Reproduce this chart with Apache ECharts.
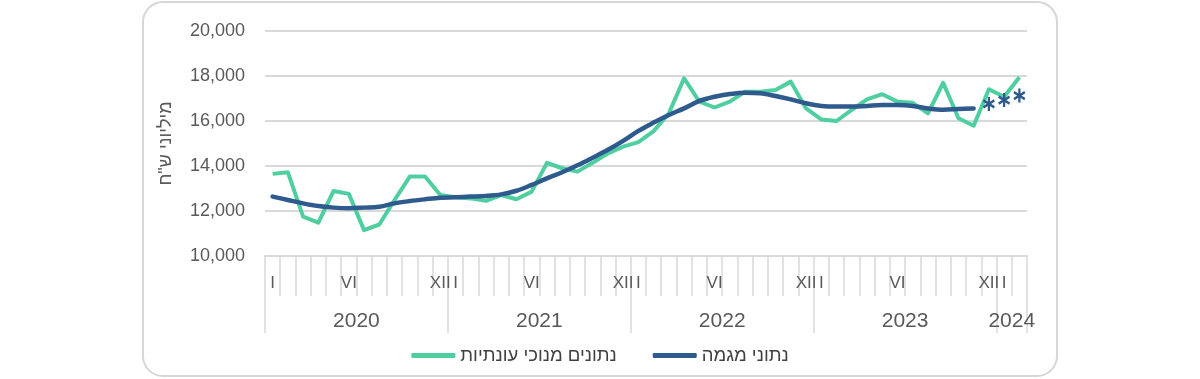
<!DOCTYPE html>
<html>
<head>
<meta charset="utf-8">
<script src="https://cdn.jsdelivr.net/npm/echarts@6/dist/echarts.min.js"></script>
<style>
  html, body { margin: 0; padding: 0; background: #ffffff; }
  #chart { width: 1200px; height: 379px; }
</style>
</head>
<body>
<div id="chart"></div>
<script>
// ---- data ----
const years = ['2020', '2021', '2022', '2023', '2024'];
const monthsPerYear = [12, 12, 12, 12, 2];
const monthTickLabels = ['I', '', '', '', '', 'VI', '', '', '', '', '', 'XII'];
const seriesNames = ['נתונים מנוכי עונתיות', 'נתוני מגמה'];
const yAxisTitle = 'מיליוני ש"ח';
const yTicks = [10000, 12000, 14000, 16000, 18000, 20000];

// seasonally adjusted (monthly, Jan 2020 - Feb 2024)
const seasonAdj = [
  13650, 13720, 11750, 11480, 12890, 12760, 11150, 11400, 12490, 13530, 13530, 12710,
  12610, 12560, 12450, 12710, 12520, 12860, 14140, 13900, 13750, 14140, 14560, 14860,
  15060, 15550, 16340, 17900, 16860, 16600, 16860, 17300, 17300, 17380, 17750, 16560,
  16070, 16000, 16490, 16960, 17190, 16860, 16810, 16340, 17700, 16120, 15790, 17410,
  17080, 17940
];
// trend (Jan 2020 - Nov 2023)
const trend = [
  12640, 12490, 12340, 12220, 12150, 12120, 12150, 12190, 12340, 12440, 12520, 12590,
  12610, 12640, 12670, 12740, 12900, 13160, 13450, 13720, 14030, 14370, 14720, 15120,
  15560, 15930, 16270, 16560, 16890, 17080, 17200, 17260, 17230, 17110, 16960, 16790,
  16670, 16640, 16640, 16670, 16710, 16710, 16670, 16560, 16500, 16530, 16560
];
// preliminary trend estimates (Dec 2023 - Feb 2024), drawn as asterisks
const trendPrelim = [16760, 16930, 17130];

// ---- derived structures ----
const categories = [];
const monthLabels = [];
years.forEach((y, yi) => {
  for (let m = 0; m < monthsPerYear[yi]; m++) {
    categories.push(y + '-' + (m + 1));
    monthLabels.push(monthTickLabels[m]);
  }
});
const n = categories.length;
const boundaryData = [];
for (let i = 0; i <= n; i++) boundaryData.push('b' + i);
const boundarySet = new Set([0]);
const yearAtMid = {};
let acc = 0;
years.forEach((y, yi) => {
  yearAtMid[acc + monthsPerYear[yi] / 2] = y;
  acc += monthsPerYear[yi];
  boundarySet.add(acc);
});

const trendData = categories.map((c, i) => i < trend.length ? trend[i] : null);
const prelimData = categories.map((c, i) => {
  const k = i - trend.length;
  return k >= 0 && k < trendPrelim.length ? trendPrelim[k] : null;
});

const GREEN = '#4fcf9f';
const BLUE = '#2f5a8e';
const GRID = '#d9d9d9';
const TXT = '#595959';
const FONT = '"Liberation Sans", Arial, sans-serif';
const asterisk = 'path://M41 0L59 0L59 100L41 100ZM2.2 32.8L11.2 17.2L97.8 67.2L88.8 82.8ZM88.8 17.2L97.8 32.8L11.2 82.8L2.2 67.2Z';

const chart = echarts.init(document.getElementById('chart'), null, { renderer: 'canvas' });
chart.setOption({
  animation: false,
  backgroundColor: '#ffffff',
  textStyle: { fontFamily: FONT },
  graphic: [{
    type: 'rect',
    silent: true,
    z: -10,
    shape: { x: 143, y: 2, width: 914, height: 374, r: 20 },
    style: { fill: 'none', stroke: '#d6d6d6', lineWidth: 2 }
  }],
  grid: { left: 265, right: 173, top: 31, bottom: 123, containLabel: false },
  legend: {
    data: seriesNames,
    left: 'center',
    top: 341,
    icon: 'roundRect',
    itemWidth: 44,
    itemHeight: 5,
    itemGap: 36,
    textStyle: { fontSize: 18.5, color: '#404040', fontFamily: FONT }
  },
  xAxis: [{
    type: 'category',
    data: categories,
    boundaryGap: true,
    position: 'bottom',
    axisLine: { show: true, lineStyle: { color: GRID, width: 2 } },
    axisTick: { show: true, interval: 0, length: 40, lineStyle: { color: GRID, width: 1.5 } },
    axisLabel: {
      interval: 0,
      margin: 19,
      fontSize: 17,
      color: TXT,
      fontFamily: FONT,
      formatter: (v, i) => monthLabels[i]
    },
    splitLine: { show: false }
  }, {
    type: 'category',
    data: boundaryData,
    boundaryGap: false,
    position: 'bottom',
    axisLine: { show: false },
    axisTick: {
      show: true,
      interval: (i) => boundarySet.has(i),
      length: 77,
      lineStyle: { color: GRID, width: 1.5 }
    },
    axisLabel: {
      interval: (i) => yearAtMid[i] !== undefined,
      margin: 55,
      fontSize: 21,
      color: TXT,
      fontFamily: FONT,
      formatter: (v, i) => yearAtMid[i] || ''
    },
    splitLine: { show: false }
  }],
  yAxis: {
    type: 'value',
    min: yTicks[0],
    max: yTicks[yTicks.length - 1],
    interval: yTicks[1] - yTicks[0],
    name: yAxisTitle,
    nameLocation: 'middle',
    nameGap: 90,
    nameTextStyle: { fontSize: 18, color: TXT, fontFamily: FONT },
    axisLine: { show: false },
    axisTick: { show: false },
    axisLabel: {
      margin: 20,
      fontSize: 18,
      color: TXT,
      fontFamily: FONT,
      formatter: (v) => v.toLocaleString('en-US')
    },
    splitLine: { lineStyle: { color: GRID, width: 2 } }
  },
  series: [{
    name: seriesNames[0],
    type: 'line',
    xAxisIndex: 0,
    data: seasonAdj,
    showSymbol: false,
    symbol: 'none',
    lineStyle: { color: GREEN, width: 4, join: 'round' },
    itemStyle: { color: GREEN },
    z: 2
  }, {
    name: seriesNames[1],
    type: 'line',
    xAxisIndex: 0,
    data: trendData,
    smooth: 0.35,
    showSymbol: false,
    symbol: 'none',
    lineStyle: { color: BLUE, width: 4.5, cap: 'round', join: 'round' },
    itemStyle: { color: BLUE },
    z: 3
  }, {
    name: 'prelim',
    type: 'line',
    xAxisIndex: 0,
    data: prelimData,
    symbol: asterisk,
    symbolSize: [12, 14],
    showSymbol: true,
    lineStyle: { width: 0, opacity: 0 },
    itemStyle: { color: BLUE },
    z: 4
  }]
});
</script>
</body>
</html>
